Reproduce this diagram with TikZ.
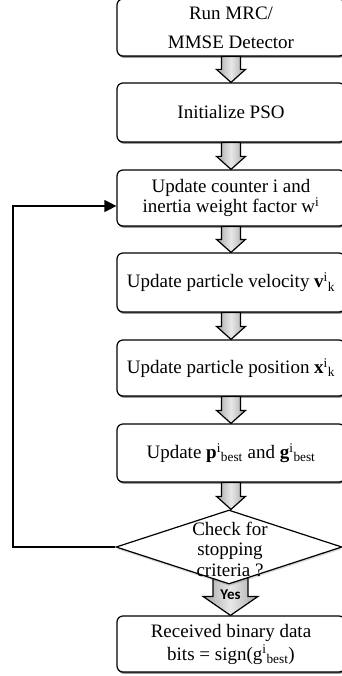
\documentclass[tikz,border=0pt]{standalone}
\usepackage{fontspec}
\setmainfont{Liberation Serif}
\newfontfamily\labelsans{Carlito}
\usetikzlibrary{calc,shapes.geometric,shadows,arrows.meta,backgrounds}

\tikzset{
  stepbox/.style={draw, line width=1.2pt, rounded corners=6pt, fill=white,
    minimum width=228pt, align=center, inner sep=0pt,
    drop shadow={shadow xshift=0.7pt, shadow yshift=-1.6pt, opacity=0.6, fill=black}},
  decision/.style={draw, shape=diamond, line width=1.2pt, fill=white,
    minimum width=226pt, minimum height=74pt, inner sep=0pt,
    drop shadow={shadow xshift=0.5pt, shadow yshift=-2pt, opacity=0.15, fill=black}},
  blockarrow/.style={draw, line width=1.2pt, line join=miter,
    left color=gray!70, right color=gray!70, middle color=gray!18},
  loopline/.style={line width=1.3pt, -{Triangle[length=12pt,width=12pt]}},
  txt/.style={font=\fontsize{19}{#1}\selectfont},
}

% block arrow from the bottom of one step to the top of the next
% #1 from, #2 to, #3 half shaft width, #4 half head width, #5 head length
\newcommand\flowarrow[5]{%
  \path[blockarrow] let \p1=(#1.south), \p2=(#2.north) in
    (\x1-#3,\y1) -- (\x1+#3,\y1) -- (\x1+#3,\y2+#5) -- (\x1+#4,\y2+#5)
    -- (\x1,\y2) -- (\x1-#4,\y2+#5) -- (\x1-#3,\y2+#5) -- cycle;}

\begin{document}
\begin{tikzpicture}[x=1pt, y={(0pt,-1pt)}]
\useasboundingbox (0,0) rectangle (342,676);
\clip (0,0) rectangle (342,676);

\node[stepbox, txt=29, minimum height=57pt] (b1) at (231,27.5)
  {Run MRC/\\MMSE Detector};
\node[stepbox, txt=22, minimum height=59pt] (b2) at (231,112.5)
  {Initialize PSO};
\node[stepbox, txt=17, minimum height=56pt] (b3) at (231,198)
  {Update counter i and\\inertia weight factor w\textsuperscript{i}};
\node[stepbox, txt=22, minimum height=59pt] (b4) at (231,282.5)
  {Update particle velocity \textbf{v}\textsuperscript{i}\textsubscript{k}};
\node[stepbox, txt=22, minimum height=56pt] (b5) at (231,368)
  {Update particle position \textbf{x}\textsuperscript{i}\textsubscript{k}};
\node[stepbox, txt=22, minimum height=58pt] (b6) at (231,453)
  {Update \textbf{p}\textsuperscript{i}\textsubscript{best} and \textbf{g}\textsuperscript{i}\textsubscript{best}};

\node[decision] (chk) at (229,547) {};
\node[txt=20.5, align=center, inner sep=0pt] (chktxt) at (230,549)
  {Check for\\stopping\\criteria ?};

\node[stepbox, txt=23, minimum height=56pt] (b7) at (231,644)
  {Received binary data\\bits = sign(g\textsuperscript{i}\textsubscript{best})};

\flowarrow{b1}{b2}{9.5pt}{14.5pt}{13pt}
\flowarrow{b2}{b3}{9.5pt}{14.5pt}{13pt}
\flowarrow{b3}{b4}{9.5pt}{14.5pt}{13pt}
\flowarrow{b4}{b5}{9.5pt}{14.5pt}{13pt}
\flowarrow{b5}{b6}{9.5pt}{14.5pt}{13pt}
\flowarrow{b6}{chk}{9.5pt}{14.5pt}{13pt}

% "Yes" exit, tucked under the decision
\begin{pgfonlayer}{background}
\path[blockarrow] let \p1=(chk.south), \p2=(b7.north) in
  (\x1+1.5pt-17.5pt,\y1+10pt) -- (\x1+1.5pt+17.5pt,\y1+10pt) -- (\x1+1.5pt+17.5pt,\y2+19pt)
  -- (\x1+1.5pt+27.5pt,\y2+19pt) -- (\x1+1.5pt,\y2) -- (\x1+1.5pt-27.5pt,\y2+19pt)
  -- (\x1+1.5pt-17.5pt,\y2+19pt) -- cycle;
\end{pgfonlayer}
\node[font=\labelsans\bfseries\fontsize{15}{15}\selectfont, inner sep=0pt] (yes) at (230.5,595) {Yes};

% loop back to the counter update
\coordinate (xl) at (13,0);
\coordinate (fbin) at ($(b3.west)+(0,8)$);
\draw[loopline] (chk.west) -- (chk.west -| xl) |- (fbin);
\end{tikzpicture}
\end{document}
